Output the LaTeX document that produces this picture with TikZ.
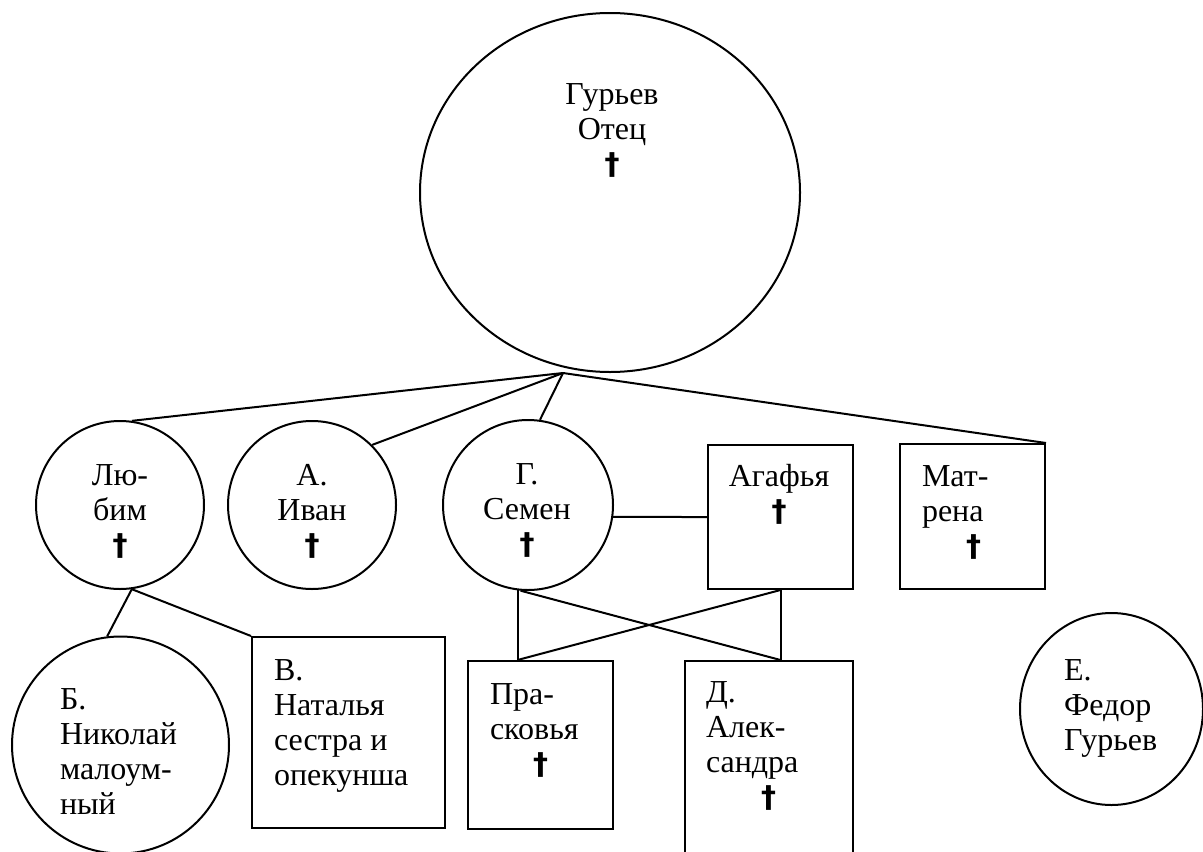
\documentclass[tikz,border=0pt]{standalone}
\usepackage{fontspec}
\setmainfont{Liberation Serif}
\newfontfamily\crossfont{DejaVu Sans}
\usetikzlibrary{positioning, shapes.geometric}

\newcommand{\dead}{{\crossfont\bfseries\fontsize{15}{17.5}\selectfont †}}

\begin{document}
\begin{tikzpicture}[
    x=0.5pt, y=-0.5pt, line width=1pt,
    person/.style={circle, draw, inner sep=0pt},
    oval/.style={ellipse, draw, inner sep=0pt},
    relative/.style={rectangle, draw, inner sep=0pt},
    caption/.style={inner sep=0pt, font=\rmfamily\fontsize{16}{17.5}\selectfont}
]
\useasboundingbox (0,0) rectangle (1203,851);

% Father
\node[oval, minimum width=190pt, minimum height=179.5pt] (father) at (610,192.5) {};
\node[caption, anchor=north, align=center] (fathertext) at (612,78.5) {\strut Гурьев\\Отец\\\dead};
\coordinate (fork) at (563,373);

% Children
\node[person, minimum size=84pt] (lubim) at (120,505) {};
\node[caption, anchor=north, align=center] (lubimtext) at (120,460) {\strut Лю-\\бим\\\dead};

\node[person, minimum size=84pt] (ivan) at (312,505) {};
\node[caption, anchor=north, align=center] (ivantext) at (312,460) {\strut А.\\Иван\\\dead};

\node[person, minimum size=85pt] (semen) at (528,505) {};
\node[caption, anchor=north, align=center] (sementext) at (527,459) {\strut Г.\\Семен\\\dead};

\node[relative, minimum width=72.5pt, minimum height=72pt] (agafya) at (780.5,517) {};
\node[caption, anchor=north, align=center] (agafyatext) at (779,460.5) {\strut Агафья\\\dead};

\node[relative, minimum width=72.5pt, minimum height=72.5pt] (matrena) at (972.5,516.5) {};
\node[caption, anchor=north west, align=left] (matrenatext) at (921,460.5) {\strut Мат-\\рена\\\hspace*{22pt}\dead};

% Grandchildren
\node[person, minimum size=108.5pt] (nikolay) at (120.5,745) {};
\node[caption, anchor=north west, align=left] (nikolaytext) at (59,683.5) {\strut Б.\\Николай\\малоум-\\ный};

\node[relative, minimum width=96.5pt, minimum height=95.5pt] (natalya) at (348.5,732.5) {};
\node[caption, anchor=north west, align=left] (natalyatext) at (273,654.5) {\strut В.\\Наталья\\сестра и\\опекунша};

\node[relative, minimum width=72.5pt, minimum height=84pt] (praskovya) at (540.5,745) {};
\node[caption, anchor=north west, align=left] (praskovyatext) at (489,678.5) {\strut Пра-\\сковья\\\hspace*{21.5pt}\dead};

\node[relative, minimum width=84pt, minimum height=100pt] (aleksandra) at (769,761) {};
\node[caption, anchor=north west, align=left] (aleksandratext) at (705,676.5) {\strut Д.\\Алек-\\сандра\\\hspace*{27.5pt}\dead};

\node[oval, minimum width=91.5pt, minimum height=96pt] (fedor) at (1111.5,709) {};
\node[caption, anchor=north west, align=left] (fedortext) at (1063,654.5) {\strut Е.\\Федор\\Гурьев};

% Lines from father
\draw (fork) -- (lubim.82);
\draw (fork) -- (ivan.45);
\draw (fork) -- (semen.82);
\draw (fork) -- (matrena.north east);

% Lubim's children
\draw (lubim.-82) -- (nikolay.97);
\draw (lubim.-82) -- (natalya.north west);

% Semen and Agafya
\draw (semen.-8) -- (agafya.west);
\draw (semen.-97) -- (semen.-97 |- praskovya.north);
\draw (semen.-95) -- (agafya.south |- aleksandra.north);
\draw (agafya.south) -- (agafya.south |- aleksandra.north);
\draw (agafya.south) -- (semen.-97 |- praskovya.north);

\end{tikzpicture}
\end{document}
